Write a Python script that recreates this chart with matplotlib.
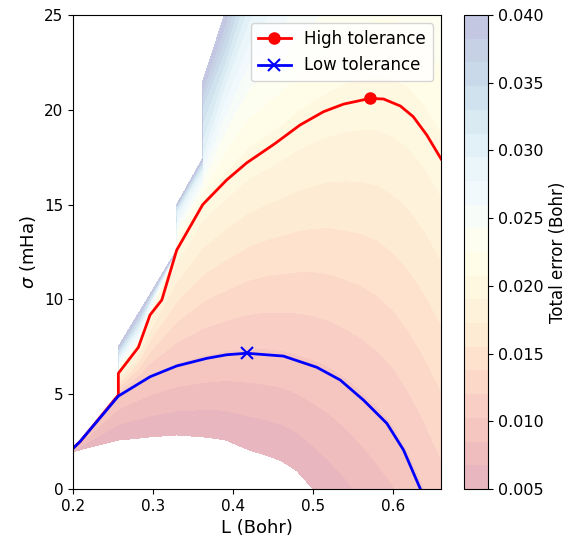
import numpy as np
import matplotlib
matplotlib.use("Agg")
import matplotlib.pyplot as plt
from matplotlib.colors import ListedColormap

# Error field: for each L column, the sigma (mHa)
# where the total error reaches each level (rows = levels).
L_cols = [0.200, 0.230, 0.2566, 0.2567, 0.2817, 0.2963, 0.3296, 0.3297, 0.3621, 0.3622, 0.390,
          0.420, 0.440, 0.460, 0.480, 0.500, 0.520, 0.540, 0.560, 0.580, 0.600, 0.620, 0.640, 0.660]
err_levels = [0.005, 0.010, 0.015, 0.020, 0.025, 0.030, 0.035, 0.040]
sig_005 = [1.97, 2.30, 2.58, 2.58, 2.68, 2.75, 2.85, 2.85, 2.75, 2.75, 2.60,
           2.06, 1.80, 1.50, 0.95, 0.0, -1.0, -2.1, -3.4, -4.8, -6.3, -8.0, -10.0, -12.0]
sig_010 = [2.15, 3.58, 4.93, 4.93, 5.55, 5.92, 6.49, 6.49, 6.85, 6.85, 7.06,
           7.16, 7.12, 7.02, 6.80, 6.50, 6.10, 5.53, 4.80, 3.95, 2.95, 1.40, -0.5, -2.5]
sig_015 = [2.15, 3.58, 4.93, 5.50, 6.60, 7.70, 9.60, 9.60, 10.9, 10.9, 11.6,
           12.3, 12.6, 12.8, 13.0, 13.1, 13.1, 12.9, 12.7, 12.3, 11.6, 10.6, 9.3, 7.7]
sig_020 = [2.15, 3.58, 4.93, 6.10, 7.47, 9.18, 12.55, 12.55, 14.98, 14.98, 16.2,
           17.4, 17.9, 18.45, 19.1, 19.6, 20.0, 20.35, 20.5, 20.6, 20.35, 19.8, 18.8, 17.4]
sig_025 = [2.15, 3.58, 4.93, 6.60, 8.00, 9.55, 12.6, 13.8, 16.2, 16.5, 19.3,
           21.8, 22.6, 23.5, 24.5, 25.5, 26.5, 27.5, 28.3, 29.0, 29.2, 29.0, 28.2, 27.0]
sig_030 = [2.15, 3.58, 4.93, 7.00, 8.50, 9.85, 12.6, 14.6, 16.9, 17.8, 21.5,
           25.0, 26.5, 28.0, 29.5, 31.0, 32.5, 34.0, 35.5, 37.0, 37.8, 38.0, 37.7, 37.0]
sig_035 = [2.15, 3.58, 4.93, 7.30, 8.90, 10.10, 12.6, 14.9, 17.25, 20.3, 23.2,
           27.5, 29.7, 32.0, 34.0, 36.0, 38.0, 40.0, 42.5, 45.0, 46.0, 47.0, 47.0, 47.0]
sig_040 = [2.15, 3.58, 4.93, 7.50, 9.25, 10.27, 12.6, 15.0, 17.44, 21.5, 25.1,
           29.5, 32.7, 36.0, 38.5, 41.0, 43.5, 46.0, 49.5, 53.0, 54.5, 56.0, 56.5, 57.0]

# Tolerance lines
L_high = [0.200, 0.209, 0.2567, 0.2567, 0.2817, 0.2963, 0.311, 0.3296, 0.3621, 0.392, 0.417,
          0.4517, 0.4837, 0.513, 0.538, 0.571, 0.588, 0.609, 0.625, 0.642, 0.660]
sig_high = [2.15, 2.5, 4.96, 6.1, 7.47, 9.18, 9.97, 12.6, 15.0, 16.3, 17.2,
            18.2, 19.2, 19.9, 20.3, 20.6, 20.57, 20.2, 19.64, 18.67, 17.4]
L_low = [0.2004, 0.2088, 0.2567, 0.2963, 0.3296, 0.367, 0.392, 0.417,
         0.4629, 0.5046, 0.5338, 0.5629, 0.5921, 0.6129, 0.634]
sig_low = [2.15, 2.5, 4.9, 5.92, 6.49, 6.89, 7.08, 7.16,
           7.01, 6.42, 5.75, 4.69, 3.46, 2.06, 0.0]

Y = np.array([sig_005, sig_010, sig_015, sig_020, sig_025, sig_030, sig_035, sig_040])
X = np.tile(np.array(L_cols), (len(err_levels), 1))
Z = np.tile(np.array(err_levels)[:, None], (1, len(L_cols)))

# RdYlBu washed out with white (like alpha=0.3), but opaque so no seams
base = plt.get_cmap("RdYlBu")(np.linspace(0, 1, 256))
base[:, :3] = 1 - 0.3 * (1 - base[:, :3])
cmap = ListedColormap(base)

fig = plt.figure(figsize=(5.79, 5.42), dpi=100)
ax = fig.add_axes([0.126, 0.0978, 0.636, 0.8745])
cax = fig.add_axes([0.801, 0.0978, 0.042, 0.8745])

levels = np.linspace(0.005, 0.040, 21)
cs = ax.contourf(X, Y, Z, levels=levels, cmap=cmap)

i_high = int(np.argmax(sig_high))
i_low = int(np.argmax(sig_low))
ax.plot(L_high, sig_high, color="red", lw=2, marker="o", ms=8,
        markevery=[i_high], label="High tolerance")
ax.plot(L_low, sig_low, color="blue", lw=2, marker="x", ms=8, mew=1.5,
        markevery=[i_low], label="Low tolerance")

ax.set_xlim(0.2, 0.66)
ax.set_ylim(0, 25)
ax.set_xticks([0.2, 0.3, 0.4, 0.5, 0.6])
ax.set_yticks([0, 5, 10, 15, 20, 25])
ax.tick_params(labelsize=11)
ax.set_xlabel("L (Bohr)", fontsize=13)
ax.set_ylabel(r"$\sigma$ (mHa)", fontsize=13)
ax.legend(loc="upper right", fontsize=12)

cb = fig.colorbar(cs, cax=cax, ticks=[0.005, 0.010, 0.015, 0.020, 0.025, 0.030, 0.035, 0.040],
                  format="%.3f")
cb.ax.tick_params(labelsize=11.5)
cb.set_label("Total error (Bohr)", fontsize=12)

fig.savefig("out.png", dpi=100)
